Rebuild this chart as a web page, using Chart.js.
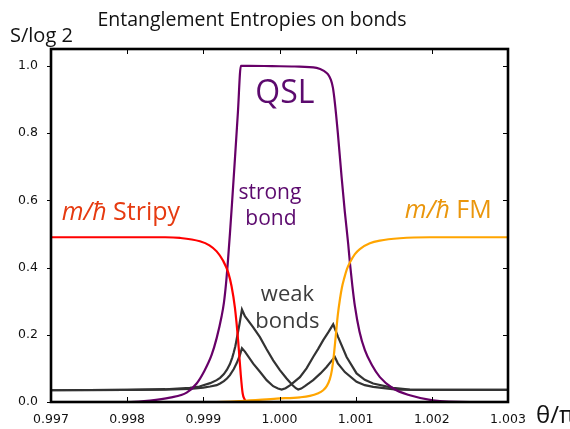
<!DOCTYPE html>
<html>
<head>
<meta charset="utf-8">
<script src="https://cdn.jsdelivr.net/npm/chart.js@4.4.1/dist/chart.umd.min.js"></script>
<style>
  html, body { margin: 0; padding: 0; background: #ffffff; }
  #wrap { width: 570px; height: 429px; position: relative; }
</style>
</head>
<body>
<div id="wrap"><canvas id="chart" width="570" height="429"></canvas></div>
<script>
// Axis ticks
const xTicks = [0.997, 0.998, 0.999, 1.000, 1.001, 1.002, 1.003];
const yTicks = [0.0, 0.2, 0.4, 0.6, 0.8, 1.0];

// Strong bond (QSL plateau)
const thetaStrong = [0.997, 0.998037, 0.998299, 0.998562, 0.998781, 0.998912, 0.999008, 0.999109, 0.999175, 0.99924,
  0.99927, 0.999297, 0.999323, 0.999349, 0.999375, 0.999415, 0.999454, 0.999493, 0.9996, 0.9999,
  1.0002, 1.000487, 1.000583, 1.000635, 1.000675, 1.000701, 1.000727, 1.000766, 1.000815, 1.000858,
  1.000902, 1.000924, 1.000957, 1.00099, 1.00105, 1.001121, 1.001213, 1.001318, 1.001492, 1.001711,
  1.002013, 1.002499, 1.003];
const sStrong = [0.0, 0.0, 0.004, 0.013, 0.028, 0.055, 0.09, 0.14, 0.19, 0.255,
  0.295, 0.35, 0.42, 0.50, 0.586, 0.724, 0.862, 1.0, 1.0, 0.999,
  0.998, 0.994, 0.985, 0.975, 0.958, 0.935, 0.89, 0.80, 0.67, 0.565,
  0.47, 0.415, 0.345, 0.285, 0.21, 0.154, 0.11, 0.074, 0.04, 0.02,
  0.005, 0.0, 0.0];

// Stripy magnetization side
const thetaStripy = [0.997, 0.9985, 0.998693, 0.998955, 0.99908, 0.999175, 0.99926, 0.999327, 0.99937, 0.999415,
  0.999458, 0.99949, 0.999516, 0.999542, 0.999568, 1.003];
const sStripy = [0.49, 0.49, 0.488, 0.478, 0.466, 0.448, 0.42, 0.385, 0.345, 0.28,
  0.18, 0.085, 0.026, 0.008, 0.0, 0.0];

// FM magnetization side
const thetaFM = [0.997, 0.9991, 0.99949, 0.999962, 1.000268, 1.000399, 1.0005, 1.000574, 1.000622, 1.000661,
  1.000688, 1.000714, 1.00074, 1.000766, 1.000793, 1.000819, 1.000852, 1.000885, 1.000924, 1.00099,
  1.001055, 1.001186, 1.001318, 1.00158, 1.001974, 1.003];
const sFM = [0.0, 0.0, 0.003, 0.01, 0.014, 0.018, 0.025, 0.035, 0.048, 0.068,
  0.095, 0.14, 0.2, 0.26, 0.305, 0.34, 0.37, 0.395, 0.415, 0.44,
  0.455, 0.472, 0.48, 0.487, 0.49, 0.49];

// Weak bond with the taller left peak
const thetaWeakA = [0.997, 0.998, 0.9985, 0.998824, 0.99895, 0.999, 0.99909, 0.999175, 0.99922, 0.99927,
  0.99931, 0.999349, 0.99938, 0.9994, 0.99942, 0.999437, 0.999475, 0.999507, 0.999546, 0.999655,
  0.999743, 0.999831, 0.999917, 1.000005, 1.000093, 1.000172, 1.000215, 1.000245, 1.000285, 1.000333,
  1.000442, 1.000538, 1.000618, 1.000675, 1.000727, 1.000766, 1.000858, 1.001012, 1.00112, 1.00123,
  1.001537, 1.002, 1.003];
const sWeakA = [0.035, 0.036, 0.038, 0.042, 0.046, 0.05, 0.056, 0.065, 0.072, 0.083,
  0.096, 0.113, 0.132, 0.148, 0.166, 0.186, 0.232, 0.275, 0.255, 0.222,
  0.193, 0.157, 0.124, 0.095, 0.07, 0.05, 0.041, 0.037, 0.04, 0.047,
  0.065, 0.085, 0.104, 0.12, 0.134, 0.115, 0.089, 0.06, 0.05, 0.045,
  0.037, 0.036, 0.036];

// Weak bond with the taller right peak
const thetaWeakB = [0.997, 0.998, 0.9985, 0.998824, 0.999, 0.99909, 0.999175, 0.99922, 0.99927, 0.99931,
  0.999349, 0.9994, 0.999437, 0.999475, 0.999507, 0.999546, 0.999655, 0.999743, 0.999831, 0.999917,
  0.99998, 1.000028, 1.00008, 1.000142, 1.000268, 1.000355, 1.000442, 1.000508, 1.000574, 1.00064,
  1.000705, 1.00077, 1.000881, 1.001012, 1.00112, 1.00123, 1.00149, 1.001711, 1.002, 1.003];
const sWeakB = [0.035, 0.036, 0.037, 0.039, 0.043, 0.046, 0.05, 0.055, 0.062, 0.07,
  0.08, 0.098, 0.115, 0.136, 0.16, 0.15, 0.114, 0.09, 0.065, 0.047,
  0.04, 0.037, 0.041, 0.05, 0.074, 0.1, 0.134, 0.158, 0.184, 0.207,
  0.231, 0.193, 0.134, 0.085, 0.066, 0.055, 0.042, 0.037, 0.036, 0.036];

const zip = (xs, ys) => xs.map((x, i) => ({ x: x, y: ys[i] }));

// In-plot annotations, anchored in data coordinates
const notes = [
  { parts: [{ t: 'QSL' }], x: 1.000071, y: 0.916, size: 32, color: '#5c0a6e', align: 'center' },
  { parts: [{ t: 'strong' }], x: 0.999874, y: 0.621, size: 21, color: '#5c0a6e', align: 'center' },
  { parts: [{ t: 'bond' }], x: 0.999888, y: 0.544, size: 21, color: '#5c0a6e', align: 'center' },
  { parts: [{ t: 'weak' }], x: 1.000104, y: 0.320, size: 22, color: '#3c3c3c', align: 'center' },
  { parts: [{ t: 'bonds' }], x: 1.000104, y: 0.240, size: 22, color: '#3c3c3c', align: 'center' },
  { parts: [{ t: 'm/ħ', italic: true }, { t: ' Stripy' }], x: 0.997140, y: 0.541, size: 25, color: '#e63a10', align: 'left', baseline: true },
  { parts: [{ t: 'm/ħ', italic: true }, { t: ' FM' }], x: 1.001646, y: 0.546, size: 25, color: '#ea960c', align: 'left', baseline: true }
];

const FONT = '"Open Sans", "Noto Sans", sans-serif';

function drawParts(ctx, parts, x, y, size, align) {
  const widths = parts.map(p => {
    ctx.font = (p.italic ? 'italic ' : '') + size + 'px ' + FONT;
    return ctx.measureText(p.t).width;
  });
  const total = widths.reduce((a, b) => a + b, 0);
  let cx = align === 'center' ? x - total / 2 : x;
  ctx.textAlign = 'left';
  parts.forEach((p, i) => {
    ctx.font = (p.italic ? 'italic ' : '') + size + 'px ' + FONT;
    ctx.fillText(p.t, cx, y);
    cx += widths[i];
  });
}

const framePlugin = {
  id: 'frameAndText',
  afterDatasetsDraw(chart) {
    const { ctx, chartArea: a, scales } = chart;
    const xs = scales.x, ys = scales.y;
    ctx.save();
    ctx.strokeStyle = '#000';
    ctx.lineWidth = 1;
    ctx.beginPath();
    xs.ticks.forEach(t => {
      const px = Math.round(xs.getPixelForValue(t.value)) + 0.5;
      ctx.moveTo(px, a.bottom); ctx.lineTo(px, a.bottom - 5);
      ctx.moveTo(px, a.top); ctx.lineTo(px, a.top + 5);
    });
    ys.ticks.forEach(t => {
      const py = Math.round(ys.getPixelForValue(t.value)) + 0.5;
      ctx.moveTo(a.left - 4, py); ctx.lineTo(a.left, py);
      ctx.moveTo(a.right, py); ctx.lineTo(a.right - 5, py);
    });
    ctx.stroke();
    ctx.lineWidth = 2.6;
    ctx.strokeRect(a.left, a.top, a.right - a.left, a.bottom - a.top);
    ctx.restore();
  },
  afterDraw(chart) {
    const { ctx, scales } = chart;
    const xs = scales.x, ys = scales.y;
    ctx.save();
    notes.forEach(n => {
      ctx.fillStyle = n.color;
      ctx.textBaseline = n.baseline ? 'alphabetic' : 'middle';
      drawParts(ctx, n.parts, xs.getPixelForValue(n.x), ys.getPixelForValue(n.y), n.size, n.align);
    });
    // Title and axis names
    ctx.fillStyle = '#111';
    ctx.textBaseline = 'alphabetic';
    drawParts(ctx, [{ t: 'Entanglement Entropies on bonds' }], 252, 26, 19.5, 'center');
    drawParts(ctx, [{ t: 'S/log 2' }], 10, 42, 20, 'left');
    drawParts(ctx, [{ t: 'θ/π' }], 536, 423, 24, 'left');
    ctx.restore();
  }
};

const lineStyle = { pointRadius: 0, borderWidth: 2.2, fill: false, clip: 4 };

new Chart(document.getElementById('chart'), {
  type: 'line',
  data: {
    datasets: [
      Object.assign({ label: 'FM', data: zip(thetaFM, sFM), borderColor: '#ffa500', cubicInterpolationMode: 'monotone', order: 1 }, lineStyle),
      Object.assign({ label: 'Stripy', data: zip(thetaStripy, sStripy), borderColor: '#ff0000', cubicInterpolationMode: 'monotone', order: 2 }, lineStyle),
      Object.assign({ label: 'strong bond', data: zip(thetaStrong, sStrong), borderColor: '#670068', cubicInterpolationMode: 'monotone', order: 3 }, lineStyle),
      // weak bonds keep straight segments so the cusps stay sharp
      Object.assign({ label: 'weak bond A', data: zip(thetaWeakA, sWeakA), borderColor: '#333333', tension: 0, order: 4 }, lineStyle),
      Object.assign({ label: 'weak bond B', data: zip(thetaWeakB, sWeakB), borderColor: '#333333', tension: 0, order: 5 }, lineStyle)
    ]
  },
  options: {
    responsive: false,
    animation: false,
    devicePixelRatio: 1,
    layout: { padding: { top: 49, right: 62, left: 0, bottom: 0 } },
    plugins: { legend: { display: false }, title: { display: false }, tooltip: { enabled: false } },
    scales: {
      x: {
        type: 'linear', min: 0.997, max: 1.003,
        afterBuildTicks: s => { s.ticks = xTicks.map(v => ({ value: v })); },
        afterFit: s => { s.height = 27; },
        grid: { display: false },
        border: { display: false },
        ticks: {
          autoSkip: false, maxRotation: 0, padding: 2, color: '#111',
          font: { family: 'DejaVu Sans', size: 12.5 },
          callback: v => Number(v).toFixed(3)
        }
      },
      y: {
        type: 'linear', min: 0, max: 1.05,
        afterBuildTicks: s => { s.ticks = yTicks.map(v => ({ value: v })); },
        afterFit: s => { s.width = 51; },
        grid: { display: false },
        border: { display: false },
        ticks: {
          padding: 5, color: '#111',
          font: { family: 'DejaVu Sans', size: 12.5 },
          callback: v => Number(v).toFixed(1)
        }
      }
    }
  },
  plugins: [framePlugin]
});
</script>
</body>
</html>
